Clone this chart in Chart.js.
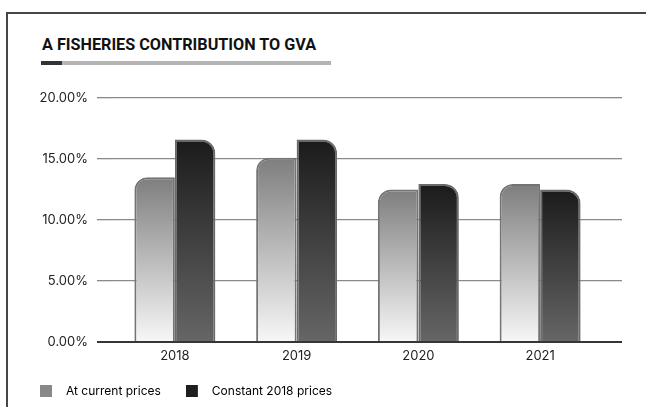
<!DOCTYPE html>
<html>
<head>
<meta charset="utf-8">
<script src="https://cdn.jsdelivr.net/npm/chart.js@4"></script>
<style>
  html, body { margin: 0; padding: 0; background: #fff; overflow: hidden; }
  #frame { position: absolute; left: 6px; top: 12px; width: 660px; height: 420px;
           border-top: 2px solid #4a4545; border-left: 2px solid #4a4545; }
  #title { position: absolute; left: 42px; top: 35px; font: bold 16.2px Roboto, sans-serif;
           letter-spacing: 0; color: #111; white-space: nowrap; }
  #bar { position: absolute; left: 41px; top: 61px; width: 290px; height: 4px; background: #b4b4b4; }
  #bar span { position: absolute; left: 0; top: 0; width: 21px; height: 4px; background: #333; }
  #wrap { position: absolute; left: 0; top: 0; width: 646px; height: 407px; }
</style>
</head>
<body>
<div id="frame"></div>
<div id="title">A FISHERIES CONTRIBUTION TO GVA</div>
<div id="bar"><span></span></div>
<div id="wrap"><canvas id="myChart" width="646" height="407"></canvas></div>
<script>
var years = ['2018', '2019', '2020', '2021'];
var currentPrices = [13.5, 15.1, 12.5, 12.95];
var constantPrices = [16.6, 16.6, 12.95, 12.5];
var seriesNames = ['At current prices', 'Constant 2018 prices'];
var legendColors = ['#888888', '#1e1e1e'];

function barGradient(topColor, bottomColor) {
    return function(c) {
        var chart = c.chart;
        if (!chart.chartArea || c.raw === undefined) return topColor;
        var y = chart.scales.y;
        var g = chart.ctx.createLinearGradient(0, y.getPixelForValue(c.raw), 0, y.getPixelForValue(0));
        g.addColorStop(0, topColor);
        g.addColorStop(1, bottomColor);
        return g;
    };
}

// legend marker: 12px square with some blank room after it
function legendMarker(color) {
    var cv = document.createElement('canvas');
    cv.width = 20; cv.height = 12;
    var x = cv.getContext('2d');
    x.fillStyle = color;
    x.fillRect(0, 0, 12, 12);
    return cv;
}

function gridColor(c) { return c.tick && c.tick.value === 0 ? '#3b3434' : '#8a8a8a'; }
function gridWidth(c) { return c.tick && c.tick.value === 0 ? 2 : 1.3; }

var ctx = document.getElementById('myChart').getContext('2d');
var myChart = new Chart(ctx, {
    type: 'bar',
    data: {
        labels: years,
        datasets: [{
            label: seriesNames[0],
            data: currentPrices,
            backgroundColor: barGradient('#7e7e7e', '#f7f7f7'),
            borderColor: '#787373',
            borderWidth: 2,
            borderRadius: {topLeft: 13, topRight: 0, bottomLeft: 0, bottomRight: 0},
            borderSkipped: 'bottom'
        },
        {
            label: seriesNames[1],
            data: constantPrices,
            backgroundColor: barGradient('#1b1b1b', '#666666'),
            borderColor: '#6c6969',
            borderWidth: 2,
            borderRadius: {topLeft: 0, topRight: 14, bottomLeft: 0, bottomRight: 0},
            borderSkipped: 'bottom'
        }]
    },
    options: {
        responsive: false,
        animation: false,
        maintainAspectRatio: false,
        layout: {
            padding: {top: 98, left: 15, right: 24, bottom: 0}
        },
        datasets: {
            bar: {categoryPercentage: 0.665, barPercentage: 1}
        },
        plugins: {
            title: {display: false},
            tooltip: {enabled: false},
            legend: {
                position: 'bottom',
                align: 'start',
                labels: {
                    usePointStyle: true,
                    pointStyleWidth: 20,
                    boxHeight: 12,
                    padding: 25,
                    color: '#222',
                    font: {family: 'Inter', size: 12},
                    generateLabels: function(chart) {
                        return chart.data.datasets.map(function(d, i) {
                            return {
                                text: d.label,
                                pointStyle: legendMarker(legendColors[i]),
                                fillStyle: legendColors[i],
                                strokeStyle: legendColors[i],
                                lineWidth: 0,
                                datasetIndex: i,
                                hidden: false
                            };
                        });
                    }
                }
            }
        },
        scales: {
            x: {
                grid: {display: false, drawTicks: false},
                border: {display: false},
                ticks: {color: '#222', padding: 6, font: {family: 'Inter', size: 13}},
                afterFit: function(s) { s.height = 18; }
            },
            y: {
                min: 0,
                max: 20,
                border: {display: false},
                grid: {color: gridColor, lineWidth: gridWidth, drawTicks: true, tickLength: 17},
                ticks: {
                    stepSize: 5,
                    padding: 9,
                    color: '#222',
                    font: {family: 'Inter', size: 13},
                    callback: function(v) { return v.toFixed(2) + '%'; }
                },
                afterFit: function(s) { s.width = 99; }
            },
            y2: {
                position: 'right',
                min: 0,
                max: 20,
                border: {display: false},
                grid: {color: gridColor, lineWidth: gridWidth, drawOnChartArea: false, drawTicks: true, tickLength: 21},
                ticks: {stepSize: 5, display: false},
                afterFit: function(s) { s.width = 21; }
            }
        }
    }
});
</script>
</body>
</html>
